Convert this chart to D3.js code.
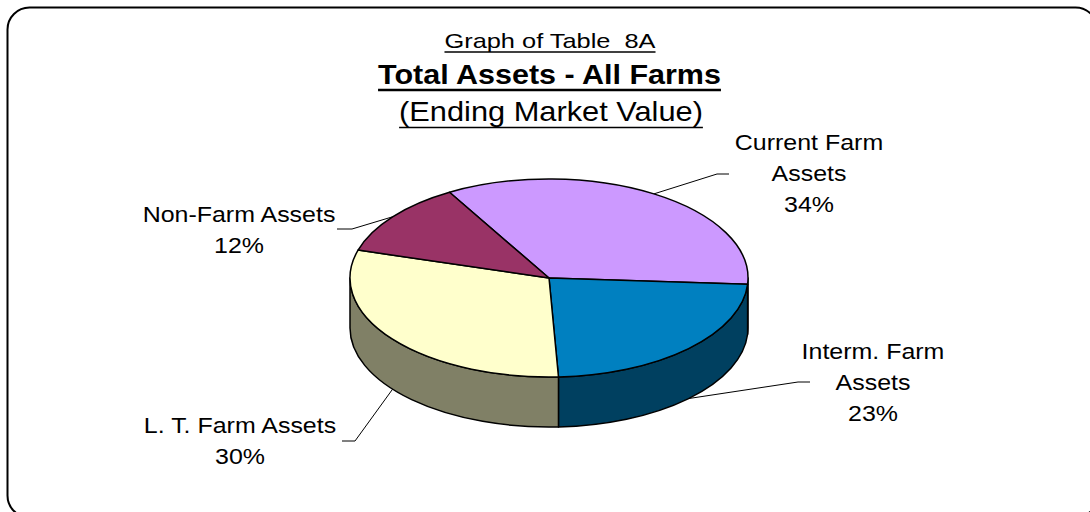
<!DOCTYPE html>
<html lang="en">
<head>
    <meta charset="UTF-8">
    <title>Total Assets - All Farms</title>
    <style>
        body { margin: 0; background: #fff; }
        text { font-family: "Liberation Sans", Arial, sans-serif; fill: #000; white-space: pre; }
        .slice { stroke: #000; stroke-width: 1.5px; stroke-linejoin: round; }
        .leader { fill: none; stroke: #000; stroke-width: 1px; }
    </style>
</head>
<body>
    <div id="chart"></div>

    <script src="https://d3js.org/d3.v7.min.js"></script>
    <script>
        "use strict";

        // data
        const categories = ["Current Farm Assets", "Interm. Farm Assets", "L. T. Farm Assets", "Non-Farm Assets"];
        const values = [34, 23, 30, 12];
        const labelLines = [["Current Farm", "Assets"], ["Interm. Farm", "Assets"], ["L. T. Farm Assets"], ["Non-Farm Assets"]];

        // styles
        const topColors = ["#cc99ff", "#0080c0", "#ffffcc", "#993366"];
        const sideColors = ["#664c80", "#004060", "#808066", "#4c1933"];

        // layout
        const width = 1090, height = 512;
        const cx = 549, cy = 278, rx = 199, ry = 99, depth = 50;
        const startAngle = 330 * Math.PI / 180;
        const labelPos = [
            { x: 809, y: 150, elbow: [717, 174], end: [729, 174] },
            { x: 873, y: 359, elbow: [798, 382], end: [810, 382] },
            { x: 240, y: 433, elbow: [355, 441], end: [342, 441] },
            { x: 239, y: 222, elbow: [352, 229], end: [337, 229] }
        ];
        const lineGap = 31;

        const svg = d3.select("#chart").append("svg")
            .attr("width", width)
            .attr("height", height);

        // frame
        svg.append("rect")
            .attr("x", 7.5).attr("y", 7.5)
            .attr("width", 1090).attr("height", 510)
            .attr("rx", 22).attr("ry", 22)
            .attr("fill", "#fff")
            .attr("stroke", "#000")
            .attr("stroke-width", 2);

        // the reference text is a little stretched sideways
        function stretchedText(x, y, str, size, sx, weight) {
            const t = svg.append("text")
                .attr("transform", "translate(" + x + "," + y + ") scale(" + sx + ",1)")
                .attr("text-anchor", "middle")
                .style("font-size", size + "px")
                .style("font-weight", weight || "normal")
                .text(str);
            t.sx = sx;
            return t;
        }
        function underline(t, x, y, thick) {
            const w = t.node().getComputedTextLength() * t.sx;
            svg.append("line")
                .attr("x1", x - w / 2).attr("x2", x + w / 2)
                .attr("y1", y).attr("y2", y)
                .attr("stroke", "#000").attr("stroke-width", thick);
        }

        const t1 = stretchedText(550, 48, "Graph of Table  8A", 20.8, 1.22);
        underline(t1, 550, 52, 1.5);
        const t2 = stretchedText(549.5, 84, "Total Assets - All Farms", 27, 1.13, "bold");
        underline(t2, 549.5, 90, 2.5);
        const t3 = stretchedText(551, 121, "(Ending Market Value)", 27, 1.14);
        underline(t3, 551, 127.5, 1.5);

        // pie
        const pie = d3.pie().sort(null).value(d => d)
            .startAngle(startAngle).endAngle(startAngle + 2 * Math.PI);
        const arcs = pie(values);
        const total = d3.sum(values);
        const fmt = d3.format(".0%");

        // screen angle (0 = 3 o'clock, clockwise) from d3 angle
        const scr = a => a - Math.PI / 2;
        const pt = (t, dy) => [cx + rx * Math.cos(t), cy + (dy || 0) + ry * Math.sin(t)];

        function topPath(d) {
            const a = scr(d.startAngle), b = scr(d.endAngle);
            const p0 = pt(a), p1 = pt(b);
            const large = (b - a) > Math.PI ? 1 : 0;
            return "M" + cx + "," + cy + "L" + p0 + "A" + rx + "," + ry + " 0 " + large + " 1 " + p1 + "Z";
        }

        // visible side wall pieces: front half of ellipse
        function wallPaths(d) {
            const a = scr(d.startAngle), b = scr(d.endAngle);
            const out = [];
            for (let k = -1; k <= 2; k++) {
                const lo = Math.max(a, k * 2 * Math.PI), hi = Math.min(b, k * 2 * Math.PI + Math.PI);
                if (hi - lo > 1e-4) {
                    const p0 = pt(lo), p1 = pt(hi), q0 = pt(lo, depth), q1 = pt(hi, depth);
                    out.push("M" + p0 + "A" + rx + "," + ry + " 0 0 1 " + p1 +
                        "L" + q1 + "A" + rx + "," + ry + " 0 0 0 " + q0 + "Z");
                }
            }
            return out;
        }

        const walls = svg.append("g");
        arcs.forEach((d, i) => {
            wallPaths(d).forEach(p => {
                walls.append("path").attr("class", "slice").attr("d", p).attr("fill", sideColors[i]);
            });
        });

        svg.append("g").selectAll("path")
            .data(arcs)
            .join("path")
            .attr("class", "slice")
            .attr("d", topPath)
            .attr("fill", (d, i) => topColors[i]);

        // leader lines
        arcs.forEach((d, i) => {
            const m = scr((d.startAngle + d.endAngle) / 2);
            const onFront = Math.sin(m) > 0;
            const start = pt(m, onFront ? depth : 0);
            const lp = labelPos[i];
            svg.append("path").attr("class", "leader")
                .attr("d", "M" + start + "L" + lp.elbow + "L" + lp.end);
        });

        // labels
        arcs.forEach((d, i) => {
            const lp = labelPos[i];
            const lines = labelLines[i].concat([fmt(values[i] / total)]);
            lines.forEach((s, j) => {
                stretchedText(lp.x, lp.y + j * lineGap, s, 22.5, 1.11);
            });
        });
    </script>
</body>
</html>
